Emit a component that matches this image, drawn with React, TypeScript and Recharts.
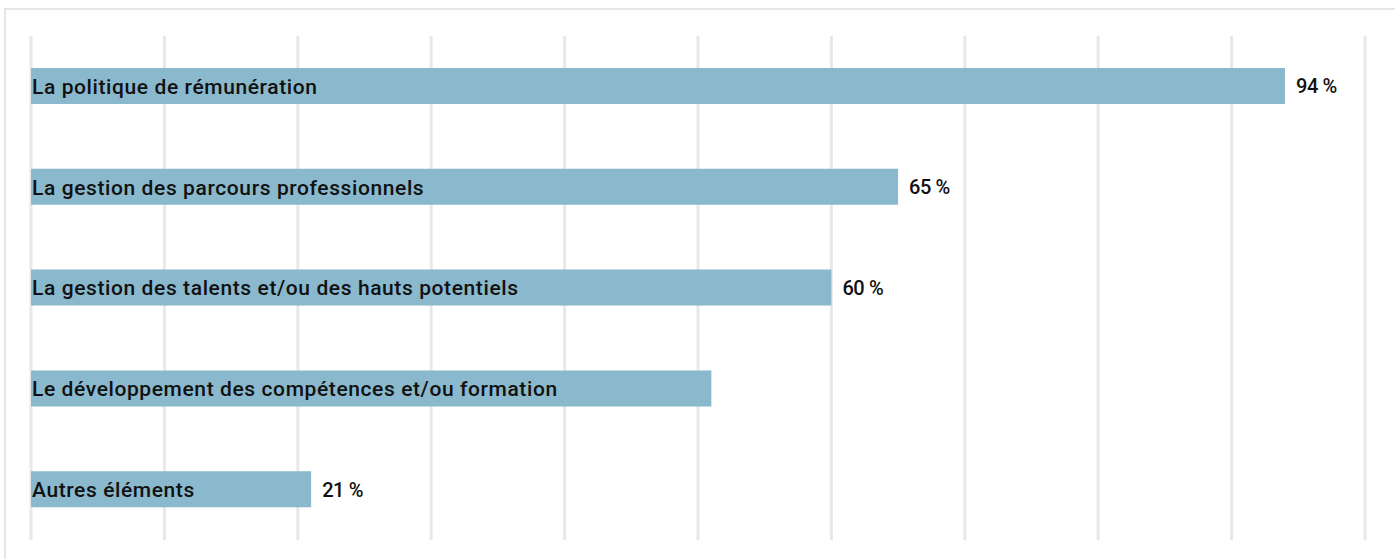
import { BarChart, Bar, XAxis, YAxis, CartesianGrid, LabelList } from 'recharts';

const categories = [
  'La politique de rémunération',
  'La gestion des parcours professionnels',
  'La gestion des talents et/ou des hauts potentiels',
  'Le développement des compétences et/ou formation',
  'Autres éléments',
];
const values = [94, 65, 60, 51, 21];
const showValue = [true, true, true, false, true];
const xTicks = [0, 10, 20, 30, 40, 50, 60, 70, 80, 90, 100];

const data = categories.map((name, i) => ({ name, value: values[i], show: showValue[i] }));

const FONT = 'Roboto, "Noto Sans", sans-serif';

const NameLabel = (props: any) => {
  const { x, y, height, value } = props;
  return (
    <text
      x={x + 1}
      y={y + height / 2}
      dy="0.37em"
      fill="#111"
      fontSize={21}
      fontFamily={FONT}
      fontWeight={500}
      letterSpacing={0.6}
    >
      {value}
    </text>
  );
};

const ValueLabel = (props: any) => {
  const { x, y, width, height, value, index } = props;
  if (!showValue[index]) return null;
  return (
    <text
      x={x + width + 11}
      y={y + height / 2}
      dy="0.37em"
      fill="#111"
      fontSize={20}
      fontFamily={FONT}
      fontWeight={500}
      letterSpacing={-0.4}
    >
      {`${value} %`}
    </text>
  );
};

export default function App() {
  return (
    <div style={{ position: 'absolute', left: 0, top: 0, width: 1395, height: 559, background: '#fff' }}>
      <div
        style={{
          position: 'absolute',
          left: 4,
          top: 8,
          width: 1400,
          height: 560,
          borderLeft: '2px solid #e6e6e6',
          borderTop: '2px solid #e6e6e6',
        }}
      />
      <div style={{ position: 'absolute', left: 0, top: 0 }}>
        <BarChart
          width={1395}
          height={559}
          data={data}
          layout="vertical"
          margin={{ top: 36, right: 30, bottom: 19, left: 31 }}
        >
          <CartesianGrid horizontal={false} stroke="#e8e8e8" strokeWidth={3} />
          <XAxis type="number" domain={[0, 100]} ticks={xTicks} hide />
          <YAxis type="category" dataKey="name" hide />
          <Bar dataKey="value" fill="#8ab8cd" barSize={36} isAnimationActive={false}>
            <LabelList dataKey="name" content={NameLabel} />
            <LabelList dataKey="value" content={ValueLabel} />
          </Bar>
        </BarChart>
      </div>
    </div>
  );
}
